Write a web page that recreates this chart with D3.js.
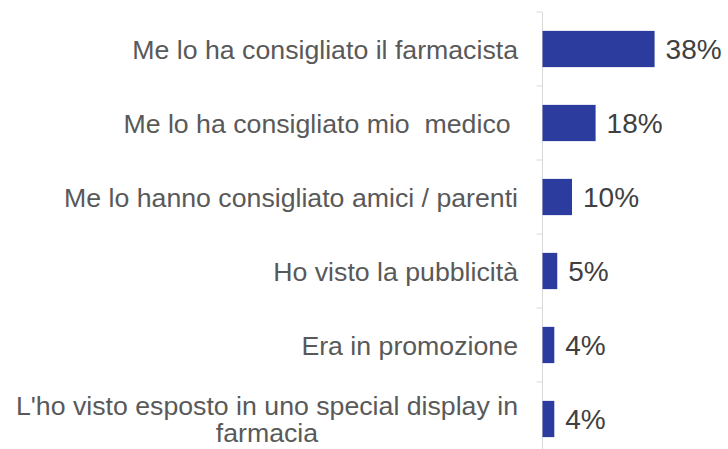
<!DOCTYPE html>
<html>
<head>
<meta charset="utf-8">
<script src="https://cdn.jsdelivr.net/npm/d3@7"></script>
<style>
  html, body { margin: 0; padding: 0; background: #ffffff; }
  svg { display: block; }
  text { font-family: "Liberation Sans", Arial, Helvetica, sans-serif; }
</style>
</head>
<body>
<svg id="chart" width="728" height="449"></svg>
<script>
// Motivi di acquisto (percentuale di risposte)
const categories = [
  "Me lo ha consigliato il farmacista",
  "Me lo ha consigliato mio  medico ",
  "Me lo hanno consigliato amici / parenti",
  "Ho visto la pubblicità",
  "Era in promozione",
  "L'ho visto esposto in uno special display in farmacia"
];
const values = [38, 18, 10, 5, 4, 4];
const valueLabels = ["38%", "18%", "10%", "5%", "4%", "4%"];
// righe di testo per le etichette che vanno a capo
const labelLines = [
  ["Me lo ha consigliato il farmacista"],
  ["Me lo ha consigliato mio  medico "],
  ["Me lo hanno consigliato amici / parenti"],
  ["Ho visto la pubblicità"],
  ["Era in promozione"],
  ["L'ho visto esposto in uno special display in", "farmacia"]
];

const svg = d3.select("#chart");
const axisX = 542.5;
const labelRight = 518;

const y = d3.scaleBand()
  .domain(categories)
  .range([12, 456])
  .paddingInner(0.51)
  .paddingOuter(0.255);

const x = d3.scaleLinear()
  .domain([0, 40])
  .range([axisX, axisX + 118]);

// asse verticale con tacche ai confini delle categorie
const step = y.step();
const gAxis = svg.append("g");
gAxis.append("line")
  .attr("x1", axisX).attr("x2", axisX)
  .attr("y1", y.range()[0]).attr("y2", y.range()[1])
  .attr("stroke", "#d9d9d9").attr("stroke-width", 1);
const boundaries = categories.map(c => y(c) - step * y.paddingInner() / 2)
  .concat([y(categories[categories.length - 1]) + y.bandwidth() + step * y.paddingInner() / 2]);
gAxis.selectAll("line.tick")
  .data(boundaries)
  .join("line")
  .attr("class", "tick")
  .attr("x1", axisX - 6).attr("x2", axisX)
  .attr("y1", d => d).attr("y2", d => d)
  .attr("stroke", "#d9d9d9").attr("stroke-width", 1);

// barre
svg.append("g").selectAll("rect")
  .data(categories)
  .join("rect")
  .attr("x", x(0))
  .attr("y", d => y(d))
  .attr("width", (d, i) => x(values[i]) - x(0))
  .attr("height", y.bandwidth())
  .attr("fill", "#2b3c9e");

// valori
svg.append("g").selectAll("text")
  .data(categories)
  .join("text")
  .attr("x", (d, i) => x(values[i]) + 11)
  .attr("y", d => y(d) + y.bandwidth() / 2)
  .attr("dy", "0.36em")
  .attr("font-size", 28)
  .attr("fill", "#404040")
  .text((d, i) => valueLabels[i]);

// etichette delle categorie
const labels = svg.append("g").selectAll("text")
  .data(categories)
  .join("text")
  .attr("font-size", 26.7)
  .attr("fill", "#595959")
  .style("white-space", "pre")
  .attr("xml:space", "preserve");

labels.each(function (d, i) {
  const t = d3.select(this);
  const lines = labelLines[i];
  const cy = y(d) + y.bandwidth() / 2;
  if (lines.length === 1) {
    t.attr("text-anchor", "end")
      .attr("x", labelRight)
      .attr("y", cy)
      .attr("dy", "0.36em")
      .text(lines[0]);
  } else {
    // blocco centrato, allineato a destra sul bordo delle etichette
    const lineH = 27;
    t.attr("text-anchor", "middle").attr("y", cy);
    const spans = t.selectAll("tspan")
      .data(lines)
      .join("tspan")
      .attr("y", (l, k) => cy + (k - (lines.length - 1) / 2) * lineH)
      .attr("dy", "0.36em")
      .text(l => l);
    const widest = d3.max(spans.nodes(), n => n.getComputedTextLength());
    spans.attr("x", labelRight - widest / 2);
  }
});
</script>
</body>
</html>
